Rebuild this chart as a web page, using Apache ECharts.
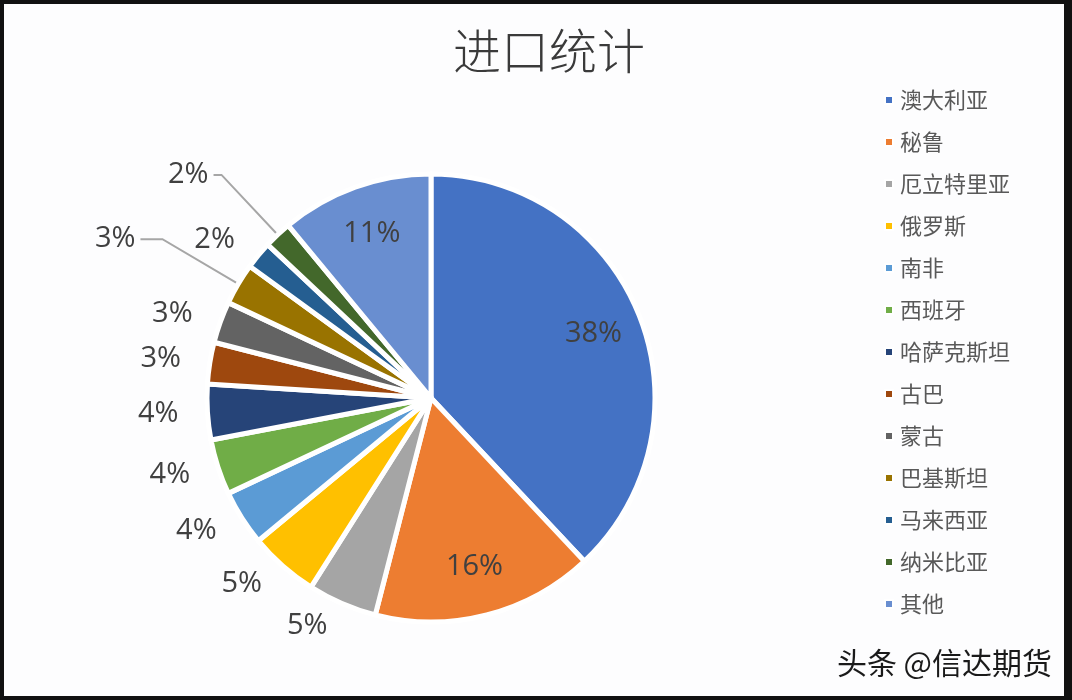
<!DOCTYPE html>
<html>
<head>
<meta charset="utf-8">
<script src="https://cdn.jsdelivr.net/npm/echarts@6/dist/echarts.min.js"></script>
<style>
  html, body { margin: 0; padding: 0; background: #fff; }
  #frame {
    position: absolute; left: 0; top: 0;
    width: 1072px; height: 700px; box-sizing: border-box;
    border-left: 4px solid #111; border-top: 4px solid #111;
    border-right: 8px solid #111; border-bottom: 4px solid #111;
    background: #fdfdfe;
  }
  #chart { width: 1060px; height: 692px; }
</style>
</head>
<body>
<div id="frame"><div id="chart"></div></div>
<script>
// ---- data ----
const titleText = '进口统计';
const categories = ['澳大利亚', '秘鲁', '厄立特里亚', '俄罗斯', '南非', '西班牙', '哈萨克斯坦', '古巴', '蒙古', '巴基斯坦', '马来西亚', '纳米比亚', '其他'];
const shares = [38, 16, 5, 5, 4, 4, 4, 3, 3, 3, 2, 2, 11];
const colors = ['#4472C4', '#ED7D31', '#A5A5A5', '#FFC000', '#5B9BD5', '#70AD47', '#264478', '#9E480E', '#636363', '#997300', '#255E91', '#43682B', '#698ED0'];
const insideLabelNames = ['澳大利亚', '秘鲁', '其他'];
const watermark = '头条 @信达期货';

// ---- layout ----
const CX = 427, CY = 394, R = 224;

const pieData = categories.map((name, i) => {
  const item = { name: name, value: shares[i] };
  if (insideLabelNames.includes(name)) {
    item.label = { position: 'inside' };
    item.labelLine = { show: false };
  } else if (name === '纳米比亚') {
    item.labelLine = { show: true, length: 82, length2: 8 };
  } else if (name === '巴基斯坦') {
    item.labelLine = { show: true, length: 88, length2: 22 };
  }
  return item;
});

const chart = echarts.init(document.getElementById('chart'), null, { renderer: 'canvas' });
const option = {
  animation: false,
  color: colors,
  title: {
    text: titleText,
    left: 540, top: 18, textAlign: 'center',
    textStyle: { fontFamily: 'Noto Sans CJK SC', fontSize: 48, fontWeight: 300, color: '#3a3a3a' }
  },
  legend: {
    orient: 'vertical',
    left: 880, top: 85,
    padding: 0,
    itemWidth: 8, itemHeight: 8, itemGap: 20,
    icon: 'rect',
    data: categories,
    textStyle: { fontFamily: 'Noto Sans CJK SC', fontSize: 22, lineHeight: 22, color: '#595959', padding: [0, 0, 0, 2] }
  },
  series: [{
    type: 'pie',
    center: [CX, CY],
    radius: [0, R],
    startAngle: 90,
    clockwise: true,
    avoidLabelOverlap: false,
    itemStyle: { borderColor: '#ffffff', borderWidth: 5 },
    label: {
      show: true,
      formatter: '{c}%',
      fontFamily: 'Open Sans',
      fontSize: 29,
      color: '#404040',
      distanceToLabelLine: 5
    },
    labelLine: {
      show: false,
      length: 24,
      length2: 0,
      lineStyle: { color: '#A6A6A6', width: 2 }
    },
    labelLayout: function (params) {
      const name = categories[params.dataIndex];
      if (!insideLabelNames.includes(name)) return {};
      const r = params.labelRect;
      const lx = r.x + r.width / 2, ly = r.y + r.height / 2;
      const dx = lx - CX, dy = ly - CY;
      const d = Math.sqrt(dx * dx + dy * dy) || 1;
      const k = 0.78 * R / d;
      return { x: CX + dx * k, y: CY + dy * k, align: 'center', verticalAlign: 'middle' };
    },
    data: pieData
  }],
  graphic: [{
    type: 'text',
    right: 12, top: 644,
    style: { text: watermark, fontFamily: 'Noto Sans CJK SC', fontSize: 30, fill: '#1a1a1a' }
  }]
};
chart.setOption(option);
</script>
</body>
</html>
